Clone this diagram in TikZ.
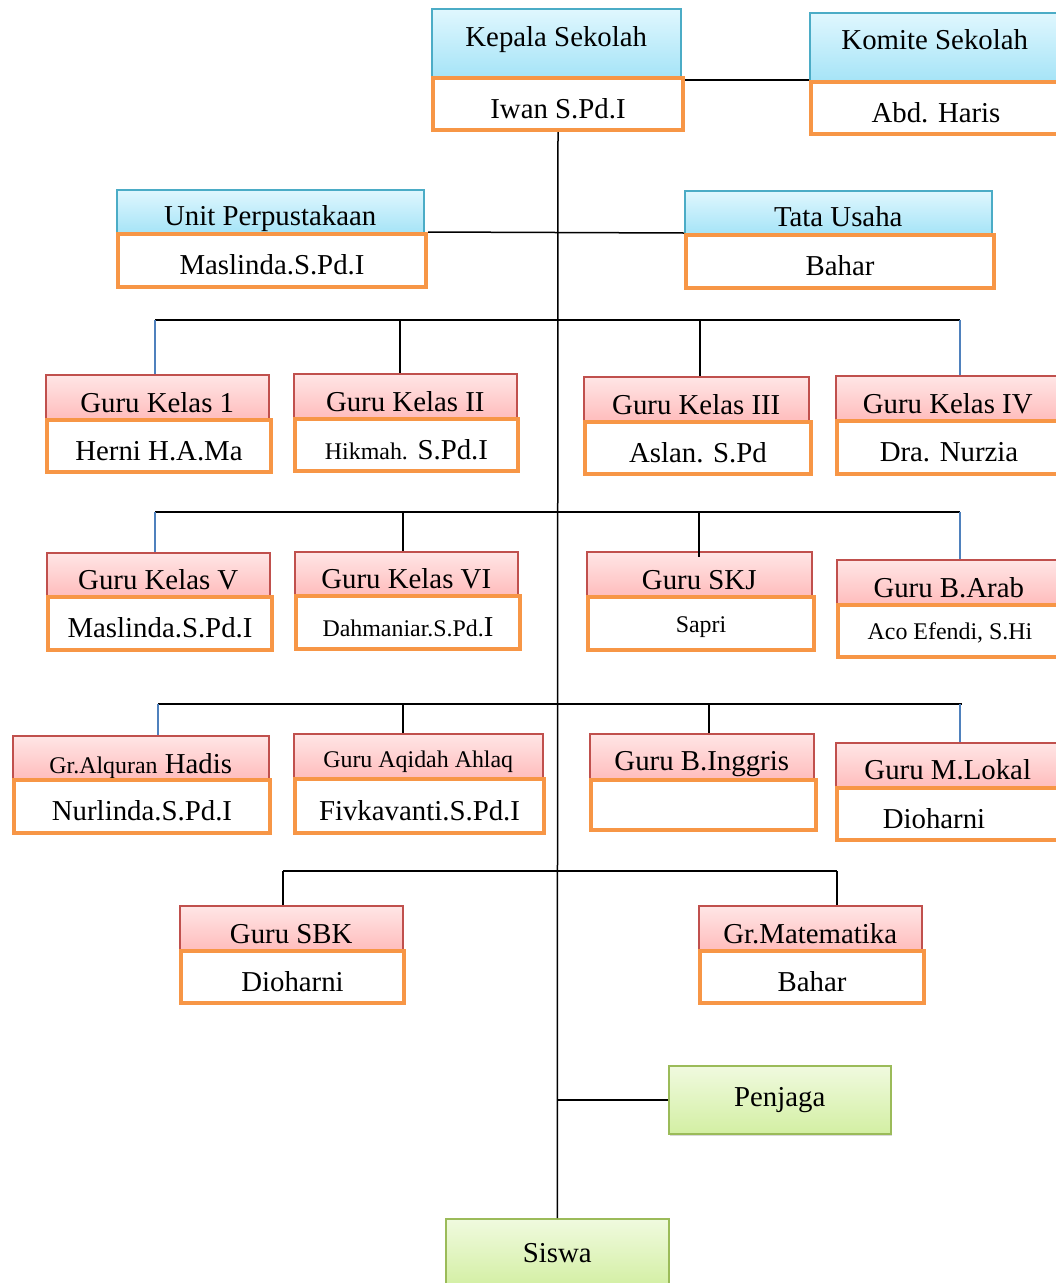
\documentclass[tikz,border=0pt]{standalone}
\usepackage{fontspec}
\setmainfont{Liberation Serif}
\usetikzlibrary{shadows}

\newdimen\px \px=0.025cm
\newcommand\bigf{\fontsize{20.5}{24}\selectfont}
\newcommand\smallf{\fontsize{17}{20}\selectfont}

\definecolor{blueT}{HTML}{E0F7FE}
\definecolor{blueB}{HTML}{A6E4F7}
\definecolor{blueL}{HTML}{4BACC6}
\definecolor{redT}{HTML}{FFE6E6}
\definecolor{redB}{HTML}{FFBDBD}
\definecolor{redL}{HTML}{C0504D}
\definecolor{orangeL}{HTML}{F79646}
\definecolor{greenT}{HTML}{F0FADF}
\definecolor{greenB}{HTML}{D3EFA3}
\definecolor{greenL}{HTML}{9BBB59}
\definecolor{dropB}{HTML}{4F81BD}

\tikzset{
  shd/.style = {drop shadow={shadow xshift=1.5\px, shadow yshift=-2.5\px, opacity=.25, fill=black!60}},
  ttl/.style = {anchor=north west, inner sep=0pt, line width=1.5\px, font=\bigf, shd},
  ttlblue/.style n args={3}{ttl, draw=blueL, top color=blueT, bottom color=blueB,
    minimum width=#1\px, text height=#2\px, text depth=#3\px},
  ttlred/.style n args={3}{ttl, draw=redL, top color=redT, bottom color=redB,
    minimum width=#1\px, text height=#2\px, text depth=#3\px},
  namebox/.style n args={2}{draw=orangeL, line width=4\px, fill=white, anchor=north west,
    inner sep=0pt, minimum width=#1\px, minimum height=#2\px, font=\bigf,
    text height=28\px, text depth=0pt},
  greenbox/.style = {draw=greenL, line width=1.5\px, top color=greenT, bottom color=greenB,
    anchor=north west, inner sep=0pt, minimum width=223\px, minimum height=68\px, font=\bigf, shd},
  ln/.style = {line width=1.5\px},
  blueln/.style = {line width=1.5\px, draw=dropB}
}

\begin{document}
\begin{tikzpicture}[x=0.025cm, y=-0.025cm]
  \useasboundingbox (0,0) rectangle (1056,1283);
  \clip (0,0) rectangle (1056,1283);

  % pimpinan
  \node[ttlblue={249}{38}{30}] (kepala) at (431,8) {Kepala Sekolah};
  \node[namebox={250}{52}] (iwan) at (431,76) {Iwan S.Pd.I};
  \node[ttlblue={250}{37}{31}] (komite) at (809,12) {Komite Sekolah};
  \node[namebox={250}{52}] (abd) at (809,80) {Abd. Haris};

  \node[ttlblue={307}{36}{7}] (unit) at (116,189) {Unit Perpustakaan};
  \node[namebox={308}{53}] (maslinda) at (116,232) {Maslinda.S.Pd.I};
  \node[ttlblue={307}{36}{7}] (tata) at (684,190) {Tata Usaha};
  \node[namebox={308}{53}] (bahar) at (684,233) {Bahar};

  % guru kelas I - IV
  \node[ttlred={223}{38}{6}] (gk1) at (45,374) {Guru Kelas 1};
  \node[namebox={224}{52}] (herni) at (45,418) {Herni H.A.Ma};
  \node[ttlred={223}{38}{6}] (gk2) at (293,373) {Guru Kelas II};
  \node[namebox={223}{52}] (hikmah) at (293,417) {{\smallf Hikmah.} S.Pd.I};
  \node[ttlred={225}{38}{6}] (gk3) at (583,376) {Guru Kelas III};
  \node[namebox={226}{52}] (aslan) at (583,420) {Aslan. S.Pd};
  \node[ttlred={224}{38}{6}] (gk4) at (835,375) {Guru Kelas IV};
  \node[namebox={224}{53}] (nurzia) at (835,419) {Dra. Nurzia};

  % guru kelas V - VI, SKJ, B.Arab
  \node[ttlred={223}{37}{6}] (gk5) at (46,552) {Guru Kelas V};
  \node[namebox={224}{53}] (maslinda2) at (46,595) {Maslinda.S.Pd.I};
  \node[ttlred={223}{37}{6}] (gk6) at (294,551) {Guru Kelas VI};
  \node[namebox={224}{53}] (dahmaniar) at (294,594) {{\smallf Dahmaniar.S.Pd.}I};
  \node[ttlred={225}{38}{6}] (skj) at (586,551) {Guru SKJ};
  \node[namebox={226}{53}, text height=18\px] (sapri) at (586,595) {{\smallf Sapri}};
  \node[ttlred={224}{38}{6}] (arab) at (836,559) {Guru B.Arab};
  \node[namebox={224}{52}, text height=16\px] (aco) at (836,603) {{\smallf Aco Efendi, S.Hi}};

  % guru mapel
  \node[ttlred={256}{38}{5}] (alquran) at (12,735) {{\smallf Gr.Alquran} Hadis};
  \node[namebox={256}{53}] (nurlinda) at (12,778) {Nurlinda.S.Pd.I};
  \node[ttlred={249}{34}{10}] (aqidah) at (293,733) {{\smallf Guru Aqidah Ahlaq}};
  \node[namebox={249}{54}] (fivka) at (293,777) {Fivkavanti.S.Pd.I};
  \node[ttlred={224}{37}{8}] (inggris) at (589,733) {Guru B.Inggris};
  \node[namebox={225}{50}] (kosong) at (589,778) {};
  \node[ttlred={224}{37}{7}] (lokal) at (835,742) {Guru M.Lokal};
  \node[namebox={224}{52}] (dioharni) at (835,786) {Dioharni\rule{30\px}{0pt}};

  \node[ttlred={223}{38}{6}] (sbk) at (179,905) {Guru SBK};
  \node[namebox={223}{52}] (dioharni2) at (179,949) {Dioharni};
  \node[ttlred={223}{38}{6}] (mtk) at (698,905) {Gr.Matematika};
  \node[namebox={224}{52}] (bahar2) at (698,949) {Bahar};

  \node[greenbox, minimum width=222\px] (penjaga) at (668,1065) {Penjaga};
  \node[greenbox] (siswa) at (445,1218) {Siswa};

  % garis komando
  \draw[ln] (iwan.south) -- (siswa.north);
  \draw[ln] ([yshift=-4\px]iwan.north east) -- (abd.north west);
  \draw[ln] (maslinda.north east) -- (bahar.north west);

  \coordinate (b1w) at (155,320);
  \coordinate (b1a) at (400,320);
  \coordinate (b1b) at (700,320);
  \coordinate (b1e) at (960,320);
  \draw[ln] (b1w) -- (b1e);
  \draw[blueln] (b1w) -- (b1w |- gk1.north);
  \draw[ln] (b1a) -- (b1a |- gk2.north);
  \draw[ln] (b1b) -- (b1b |- gk3.north);
  \draw[blueln] (b1e) -- (b1e |- gk4.north);

  \coordinate (b2w) at (155,512);
  \coordinate (b2a) at (403,512);
  \coordinate (b2b) at (699,512);
  \coordinate (b2e) at (960,512);
  \draw[ln] (b2w) -- (b2e);
  \draw[blueln] (b2w) -- (b2w |- gk5.north);
  \draw[ln] (b2a) -- (b2a |- gk6.north);
  \draw[ln] (b2b) -- ([yshift=-6\px]b2b |- skj.north);
  \draw[blueln] (b2e) -- (b2e |- arab.north);

  \coordinate (b3w) at (158,704);
  \coordinate (b3a) at (403,704);
  \coordinate (b3b) at (709,704);
  \coordinate (b3e) at (962,704);
  \draw[ln] (b3w) -- (b3e);
  \draw[blueln] (b3w) -- (b3w |- alquran.north);
  \draw[ln] (b3a) -- (b3a |- aqidah.north);
  \draw[ln] (b3b) -- (b3b |- inggris.north);
  \draw[blueln] ([xshift=-2\px]b3e) -- ([xshift=-2\px]b3e |- lokal.north);

  \coordinate (b4w) at (283,871);
  \coordinate (b4e) at (837,871);
  \draw[ln] (b4w) -- (b4e);
  \draw[ln] (b4w) -- (b4w |- sbk.north);
  \draw[ln] (b4e) -- (b4e |- mtk.north);

  \draw[ln] (penjaga.west) -- (penjaga.west -| iwan.south);
\end{tikzpicture}
\end{document}
